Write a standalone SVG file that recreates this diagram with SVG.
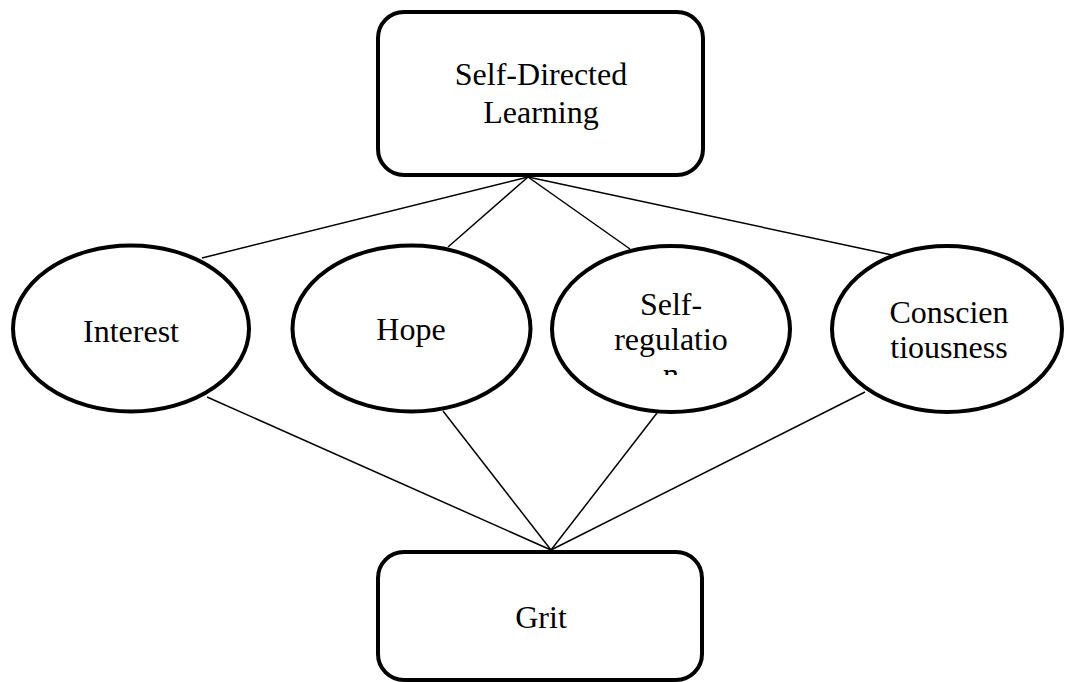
<svg xmlns="http://www.w3.org/2000/svg" width="1065" height="682" viewBox="0 0 1065 682">
<style>
.shape{fill:#fff;stroke:#000;stroke-width:4}
.conn{stroke:#000;stroke-width:1.5;fill:none}
text{font-family:"Liberation Serif","Times New Roman",serif;font-size:32px;fill:#000;text-anchor:middle}
</style>
<defs>
<clipPath id="srclip"><rect x="540" y="240" width="260" height="135"/></clipPath>
</defs>
<rect width="1065" height="682" fill="#fff"/>
<g id="connectors">
<line class="conn" x1="528" y1="177" x2="202" y2="258"/>
<line class="conn" x1="528" y1="177" x2="448" y2="247"/>
<line class="conn" x1="528" y1="177" x2="630" y2="249"/>
<line class="conn" x1="528" y1="177" x2="892" y2="255"/>
<line class="conn" x1="551" y1="550" x2="207" y2="397"/>
<line class="conn" x1="551" y1="550" x2="443" y2="411"/>
<line class="conn" x1="551" y1="550" x2="657" y2="413"/>
<line class="conn" x1="551" y1="550" x2="865" y2="392"/>
</g>
<g id="sdl">
<rect class="shape" x="378" y="12" width="325" height="163" rx="26"/>
<text x="541" y="85">Self-Directed</text>
<text x="541" y="123">Learning</text>
</g>
<g id="interest">
<ellipse class="shape" cx="131" cy="328.5" rx="118" ry="83"/>
<text x="131" y="342">Interest</text>
</g>
<g id="hope">
<ellipse class="shape" cx="411.5" cy="328.5" rx="119" ry="83"/>
<text x="411" y="340">Hope</text>
</g>
<g id="selfreg">
<ellipse class="shape" cx="671" cy="329" rx="119" ry="83"/>
<text x="671" y="315">Self-</text>
<text x="671" y="350">regulatio</text>
<text x="671" y="385" clip-path="url(#srclip)">n</text>
</g>
<g id="consc">
<ellipse class="shape" cx="947" cy="329" rx="115" ry="83"/>
<text x="949" y="323">Conscien</text>
<text x="949" y="358">tiousness</text>
</g>
<g id="grit">
<rect class="shape" x="378" y="552" width="324" height="128" rx="26"/>
<text x="541" y="628">Grit</text>
</g>
</svg>
